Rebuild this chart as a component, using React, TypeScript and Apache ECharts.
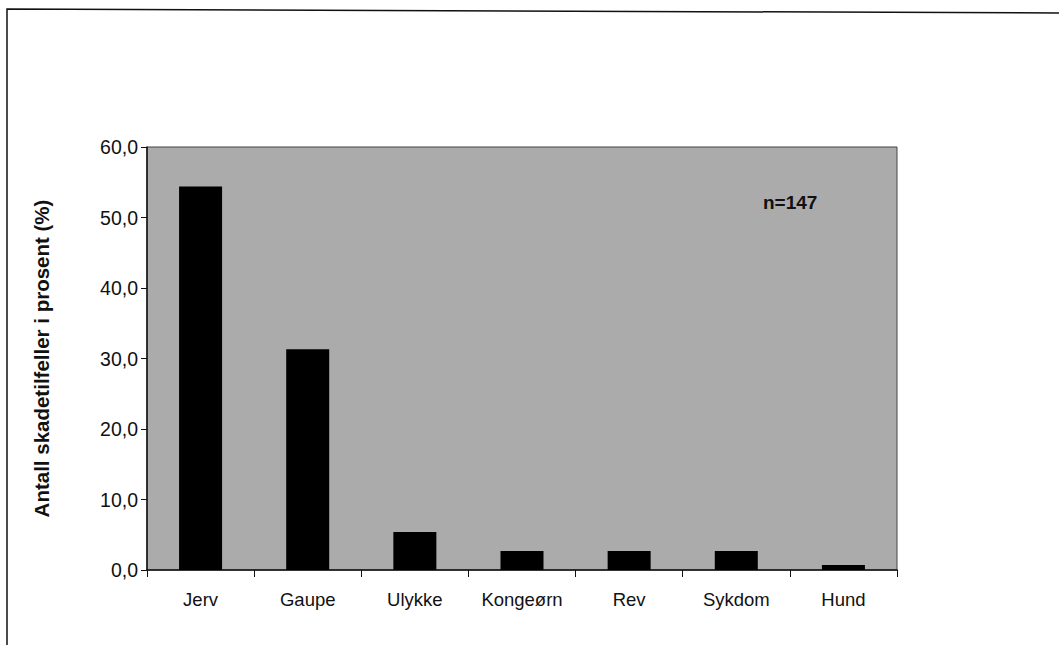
import React, { useEffect, useRef } from "react";
import * as echarts from "echarts";

const categories = ["Jerv", "Gaupe", "Ulykke", "Kongeørn", "Rev", "Sykdom", "Hund"];
const percentValues = [54.4, 31.3, 5.4, 2.7, 2.7, 2.7, 0.7];
const yAxisTitle = "Antall skadetilfeller i prosent (%)";
const sampleLabel = "n=147";

export default function App() {
  const ref = useRef<HTMLDivElement>(null);
  useEffect(() => {
    if (!ref.current) return;
    const chart = echarts.init(ref.current, null, { renderer: "svg" });
    const font = "'Liberation Sans', Arial, sans-serif";
    chart.setOption({
      animation: false,
      backgroundColor: "#ffffff",
      grid: {
        left: 147,
        top: 147,
        width: 750,
        height: 423,
        show: true,
        backgroundColor: "#ababab",
        borderColor: "#444",
        borderWidth: 1,
      },
      xAxis: {
        type: "category",
        data: categories,
        axisLine: { lineStyle: { color: "#111", width: 1.5 } },
        axisTick: { show: true, inside: false, length: 7, interval: 0, lineStyle: { color: "#111" } },
        axisLabel: { color: "#111", fontFamily: font, fontSize: 18.5, margin: 20, interval: 0 },
        splitLine: { show: false },
      },
      yAxis: {
        type: "value",
        min: 0,
        max: 60,
        interval: 10,
        name: yAxisTitle,
        nameLocation: "middle",
        nameGap: 95,
        nameRotate: 90,
        nameTextStyle: { color: "#111", fontFamily: font, fontSize: 20.5, fontWeight: "bold" },
        axisLine: { show: true, lineStyle: { color: "#111", width: 1.5 } },
        axisTick: { show: true, inside: false, length: 6, lineStyle: { color: "#111" } },
        axisLabel: {
          color: "#111",
          fontFamily: font,
          fontSize: 19.5,
          margin: 9,
          formatter: (v: number) => v.toFixed(1).replace(".", ","),
        },
        splitLine: { show: false },
      },
      series: [
        {
          type: "bar",
          data: percentValues,
          barWidth: 43,
          itemStyle: { color: "#000000" },
        },
      ],
      graphic: [
        {
          type: "polyline",
          shape: { points: [[7, 645], [7, 9], [1059, 13]] },
          style: { stroke: "#111", lineWidth: 1.5, fill: null },
        },
        {
          type: "text",
          x: 763,
          y: 202,
          style: {
            text: sampleLabel,
            fill: "#111",
            font: `bold 19px ${font}`,
            verticalAlign: "middle",
          },
        },
      ],
    });
    return () => chart.dispose();
  }, []);
  return (
    <div
      ref={ref}
      style={{ position: "fixed", left: 0, top: 0, width: 1059, height: 645 }}
    />
  );
}
